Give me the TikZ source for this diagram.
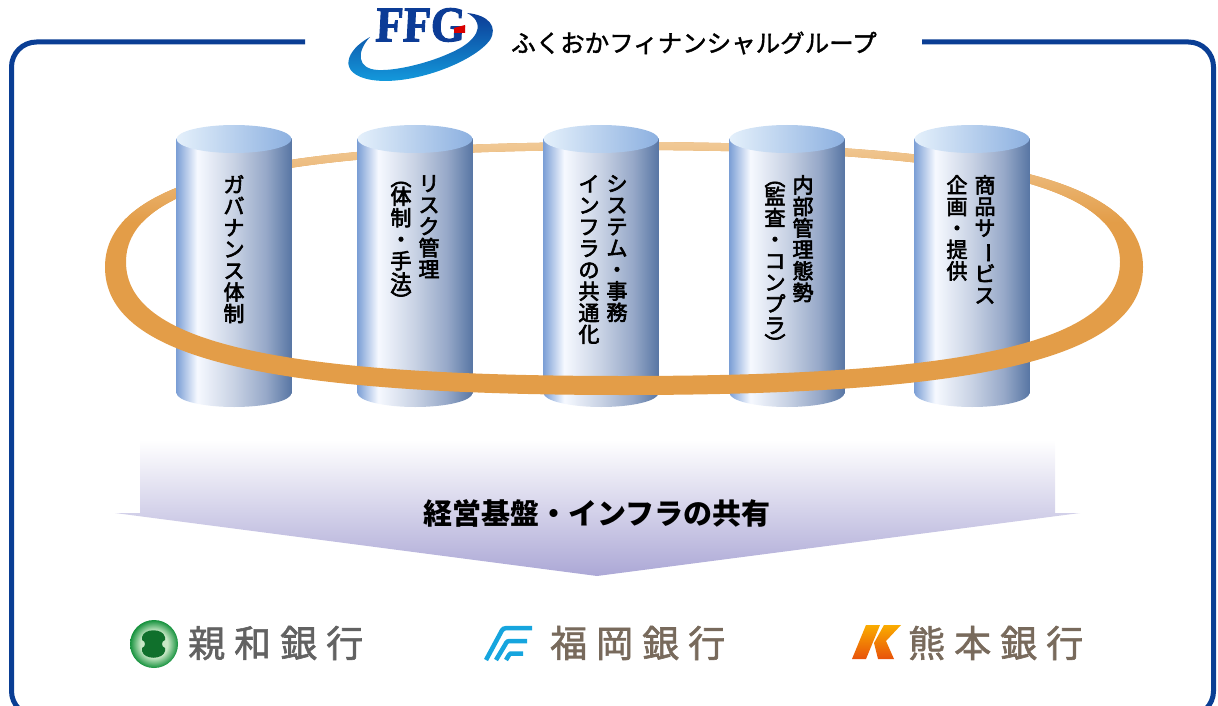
\documentclass[tikz,border=0pt]{standalone}
\usepackage{fontspec}
\usepackage{graphicx}
\newfontfamily\jpfont{Noto Sans CJK JP}
\newfontfamily\jpmed{Noto Sans CJK JP}[FakeBold=3]
\newfontfamily\jpbank{Noto Sans CJK JP}[FakeBold=1.6]
\newfontfamily\logofont{Liberation Serif}[FakeSlant=0.06, FakeBold=2]

\definecolor{framecol}{RGB}{10,62,148}
\definecolor{ffgblue}{RGB}{12,60,150}
\definecolor{ffgcyan}{RGB}{20,160,225}
\definecolor{ringorange}{RGB}{227,157,72}
\definecolor{ringlight}{RGB}{241,202,152}
\definecolor{cylA}{RGB}{125,160,214}
\definecolor{cylW}{RGB}{246,249,255}
\definecolor{cylM}{RGB}{200,210,228}
\definecolor{cylN}{RGB}{150,168,200}
\definecolor{cylD}{RGB}{88,118,164}
\definecolor{cyltopL}{RGB}{228,240,251}
\definecolor{cyltopR}{RGB}{140,176,224}
\definecolor{arrowlav}{RGB}{172,168,214}
\definecolor{shinwaD}{RGB}{20,145,60}
\definecolor{shinwaL}{RGB}{200,232,198}
\definecolor{shinwaC}{RGB}{16,112,44}
\definecolor{fukuokablue}{RGB}{22,165,222}
\definecolor{kumaY}{RGB}{250,172,0}
\definecolor{kumaR}{RGB}{232,82,10}
\definecolor{graytext}{RGB}{98,98,98}
\definecolor{browntext}{RGB}{120,106,92}

% pillar body: blue edges, bright band left of centre
\pgfdeclarehorizontalshading{cylbody}{100bp}{color(0bp)=(cylA); color(25bp)=(cylA); color(34bp)=(cylW); color(50bp)=(cylM); color(64bp)=(cylN); color(75bp)=(cylD); color(100bp)=(cylD)}
% bank badge: pale centre, dark green rim
\pgfdeclareradialshading{shinwaglow}{\pgfpoint{0bp}{0bp}}{color(0bp)=(shinwaL); color(14bp)=(shinwaL); color(25bp)=(shinwaD); color(50bp)=(shinwaD)}

% vertical-writing helper: turn a glyph a quarter clockwise
\newcommand\vrot[1]{\rotatebox[origin=c]{-90}{#1}}

% the orange ring: outer and inner outline
\newcommand\ringshape{(105,267) .. controls (105,179.5) and (260.7,142) .. (624,142) .. controls (987.3,142) and (1143,179.5) .. (1143,267) .. controls (1143,356.6) and (987.3,395) .. (624,395) .. controls (260.7,395) and (105,356.6) .. (105,267) -- cycle (126,262) .. controls (126,183.6) and (275.1,150) .. (623,150) .. controls (970.9,150) and (1120,183.6) .. (1120,262) .. controls (1120,341.8) and (970.9,376) .. (623,376) .. controls (275.1,376) and (126,341.8) .. (126,262) -- cycle}

% one pillar centred at x = #1
\newcommand\pillar[1]{%
  \shade[shading=cylbody] (#1-57.5,139) rectangle (#1+57.5,393);
  \shade[shading=cylbody] (#1,393) ellipse [x radius=57.5, y radius=14];
  \shade[left color=cyltopL, right color=cyltopR] (#1,139) ellipse [x radius=57.5, y radius=14];
}

\tikzset{
  vtxt/.style={anchor=north, align=center, inner sep=0pt, text=black,
    font=\jpmed\fontsize{21}{21.5}\selectfont},
  banktxt/.style={anchor=west, inner sep=0pt,
    font=\jpbank\fontsize{37}{40}\selectfont},
}

\begin{document}
\begin{tikzpicture}[x=1pt,y=-1pt]
\useasboundingbox (0,0) rectangle (1218,706);
\clip (0,0) rectangle (1218,706);

% outer frame, open at the top for the group title
\draw[framecol, line width=5pt, rounded corners=25pt]
  (305,42) -- (11.5,42) -- (11.5,716) -- (1213.5,716) -- (1213.5,42) -- (922,42);

% group logo: swoosh, letters, red mark
\shade[top color=ffgblue, bottom color=ffgcyan]
  (370,37) .. controls (346,50) and (336,74) .. (372,80)
  .. controls (412,86) and (474,62) .. (490,40)
  .. controls (498,27) and (489,15) .. (467,13)
  .. controls (483,21) and (481,35) .. (462,47)
  .. controls (440,60) and (400,71) .. (378,70)
  .. controls (357,69) and (356,52) .. (370,37) -- cycle;
\node[inner sep=0pt, text=ffgblue, xscale=0.9,
      font=\logofont\bfseries\fontsize{50}{50}\selectfont]
  (ffg) at (420,25) {FFG};
\fill[red!85!black] (454,28) -- (465,25) -- (465,33) -- (454,33) -- cycle;
\node[anchor=west, inner sep=0pt, font=\jpbank\fontsize{24.5}{26}\selectfont]
  (title) at (511,43) {ふくおかフィナンシャルグループ};

% back half of the ring (behind the pillars)
\begin{scope}[even odd rule]
  \clip \ringshape;
  \fill[ringorange] (0,0) rectangle (1218,262);
  \shade[top color=ringlight, bottom color=ringorange] (0,140) rectangle (1218,222);
\end{scope}

% pillars
\pillar{234}
\pillar{415}
\pillar{601}
\pillar{787}
\pillar{972}

% front half of the ring (over the pillars)
\begin{scope}[even odd rule]
  \clip \ringshape;
  \fill[ringorange] (0,262) rectangle (1218,410);
\end{scope}

% pillar labels, written top to bottom
\node[vtxt] (p1)  at (234,175) {ガ\\バ\\ナ\\ン\\ス\\体\\制};
\node[vtxt] (p2a) at (429,175) {リ\\ス\\ク\\管\\理};
\node[vtxt] (p2b) at (401,167) {\vrot{（}\\[-3pt]体\\制\\・\\手\\法\\[-3pt]\vrot{）}};
\node[vtxt] (p3a) at (617,175) {シ\\ス\\テ\\ム\\・\\事\\務};
\node[vtxt] (p3b) at (589,175) {イ\\ン\\フ\\ラ\\の\\共\\通\\化};
\node[vtxt] (p4a) at (803,175) {内\\部\\管\\理\\態\\勢};
\node[vtxt] (p4b) at (775,167) {\vrot{（}\\[-3pt]監\\査\\・\\コ\\ン\\プ\\ラ\\[-3pt]\vrot{）}};
\node[vtxt] (p5a) at (985,175) {商\\品\\サ\\\vrot{ー}\\ビ\\ス};
\node[vtxt] (p5b) at (957,175) {企\\画\\・\\提\\供};

% shared-foundation arrow
\shade[top color=white, bottom color=arrowlav]
  (140,440) -- (140,513) -- (115,513) -- (597,576) -- (1080,513) -- (1055,513) -- (1055,440) -- cycle;
\node[inner sep=0pt, font=\jpfont\bfseries\fontsize{29}{30}\selectfont]
  (share) at (597,513) {経営基盤・インフラの共有};

% Shinwa Bank mark
\shade[shading=shinwaglow] (154,644) circle (24);
\fill[shinwaC]
  (142,637) .. controls (144,628) and (163,628) .. (165,637) -- (165,640)
  .. controls (161,641) and (161,647) .. (165,648) -- (165,651)
  .. controls (163,660) and (144,660) .. (142,651) -- (142,648)
  .. controls (146,647) and (146,641) .. (142,640) -- cycle;
\node[banktxt, text=graytext] (shinwa) at (188,643) {親\hspace{9pt}和\hspace{9pt}銀\hspace{9pt}行};

% Fukuoka Bank mark
\begin{scope}[fukuokablue, line width=4.5pt]
  \draw (486,660) -- (500,634) .. controls (503,628) .. (511,628) -- (532,628);
  \draw (496,660) -- (505,645) .. controls (507,641) .. (513,641) -- (527,641);
  \draw (506,660) -- (509,655) .. controls (510,653.5) .. (514,653.5) -- (523,653.5);
\end{scope}
\node[banktxt, text=browntext] (fukuoka) at (550,643) {福\hspace{9pt}岡\hspace{9pt}銀\hspace{9pt}行};

% Kumamoto Bank mark
\shade[top color=kumaY, bottom color=kumaR]
  (852,659) -- (866,659) -- (880,625) -- (866,625) -- cycle;
\shade[top color=kumaY, bottom color=kumaR]
  (884,625) -- (901,625) -- (886,641) -- (894,659) -- (878,659) -- (874,643) -- cycle;
\node[banktxt, text=browntext] (kumamoto) at (908,643) {熊\hspace{9pt}本\hspace{9pt}銀\hspace{9pt}行};
\end{tikzpicture}
\end{document}
